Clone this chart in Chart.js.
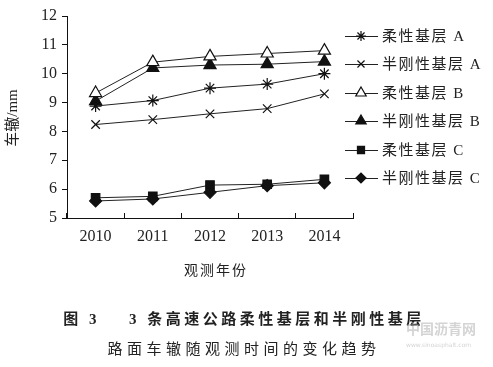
<!DOCTYPE html>
<html>
<head>
<meta charset="utf-8">
<script src="https://cdn.jsdelivr.net/npm/chart.js@4.4.1/dist/chart.umd.min.js"></script>
<style>
  body { margin: 0; background: #fff; }
  #wrap { width: 493px; height: 367px; position: relative; }
</style>
</head>
<body>
<div id="wrap"><canvas id="rut"></canvas></div>
<script>
var years = ['2010', '2011', '2012', '2013', '2014'];
var rouFlexA = [8.88, 9.07, 9.5, 9.64, 10.0];
var rouSemiA = [8.24, 8.41, 8.61, 8.79, 9.3];
var rouFlexB = [9.33, 10.4, 10.6, 10.7, 10.8];
var rouSemiB = [9.05, 10.2, 10.3, 10.33, 10.42];
var rouFlexC = [5.7, 5.75, 6.14, 6.17, 6.34];
var rouSemiC = [5.59, 5.66, 5.89, 6.12, 6.22];
var seriesNames = ['柔性基层 A', '半刚性基层 A', '柔性基层 B', '半刚性基层 B', '柔性基层 C', '半刚性基层 C'];
var yTicks = [5, 6, 7, 8, 9, 10, 11, 12];

var serif = '"Liberation Serif", "DejaVu Serif", serif';
var mixed = '"Liberation Serif", "Noto Sans CJK SC", serif';
var cjk = '"Noto Sans CJK SC", sans-serif';

function mkSet(i, data, style, fill, r) {
    return {
        label: seriesNames[i],
        data: data,
        borderColor: '#222',
        borderWidth: 1,
        pointStyle: style,
        pointRadius: r,
        pointBorderColor: '#111',
        pointBorderWidth: 1.2,
        pointBackgroundColor: fill,
        tension: 0
    };
}

var datasets = [
    mkSet(0, rouFlexA, 'star', '#111', 6),
    mkSet(1, rouSemiA, 'crossRot', '#111', 6),
    mkSet(2, rouFlexB, 'triangle', '#fff', 7),
    mkSet(3, rouSemiB, 'triangle', '#111', 7),
    mkSet(4, rouFlexC, 'rect', '#111', 6),
    mkSet(5, rouSemiC, 'rectRot', '#111', 6)
];

// legend + titles drawn on the canvas
var textPlugin = {
    id: 'texts',
    afterDraw: function (chart) {
        var ctx = chart.ctx;
        ctx.save();
        // legend
        var rows = [36, 64, 93, 121, 150, 178];
        for (var i = 0; i < datasets.length; i++) {
            var d = datasets[i];
            var y = rows[i];
            ctx.strokeStyle = '#222';
            ctx.lineWidth = 1;
            ctx.beginPath();
            ctx.moveTo(345, y + 0.5);
            ctx.lineTo(378, y + 0.5);
            ctx.stroke();
            ctx.fillStyle = d.pointBackgroundColor;
            ctx.strokeStyle = '#111';
            ctx.lineWidth = 1.2;
            Chart.helpers.drawPoint(ctx, { pointStyle: d.pointStyle, radius: d.pointRadius - 1, borderWidth: 1.2 }, 361, y);
            ctx.fillStyle = '#222';
            ctx.font = '15px ' + mixed;
            ctx.textAlign = 'left';
            ctx.textBaseline = 'middle';
            ctx.letterSpacing = '1.5px';
            ctx.fillText(seriesNames[i], 382, y + 1);
        }
        ctx.letterSpacing = '0px';
        // y title
        ctx.save();
        ctx.translate(13, 118);
        ctx.rotate(-Math.PI / 2);
        ctx.textAlign = 'center';
        ctx.textBaseline = 'middle';
        ctx.font = '15px ' + mixed;
        ctx.fillStyle = '#222';
        ctx.fillText('车辙/mm', 0, 0);
        ctx.restore();
        // x title
        ctx.textAlign = 'center';
        ctx.textBaseline = 'middle';
        ctx.font = '14px ' + cjk;
        ctx.letterSpacing = '2px';
        ctx.fillText('观测年份', 216, 270);
        // caption
        ctx.font = 'bold 15px ' + mixed;
        ctx.letterSpacing = '3.5px';
        ctx.fillText('图 3    3 条高速公路柔性基层和半刚性基层', 244, 320);
        ctx.font = '15px ' + cjk;
        ctx.letterSpacing = '4.5px';
        ctx.fillText('路面车辙随观测时间的变化趋势', 244, 348);
        // watermark
        ctx.letterSpacing = '0px';
        ctx.fillStyle = 'rgba(170,170,170,0.5)';
        ctx.font = 'bold 14px ' + cjk;
        ctx.textAlign = 'left';
        ctx.fillText('中国沥青网', 406, 329);
        ctx.font = '6px "DejaVu Sans", sans-serif';
        ctx.fillText('www.sinoasphalt.com', 406, 345);
        ctx.restore();
    }
};

new Chart(document.getElementById('rut'), {
    type: 'line',
    data: { labels: years, datasets: datasets },
    options: {
        responsive: true,
        maintainAspectRatio: false,
        animation: false,
        layout: { padding: { top: 16, right: 140, bottom: 119, left: 0 } },
        plugins: {
            legend: { display: false },
            tooltip: { enabled: false }
        },
        scales: {
            x: {
                type: 'category',
                offset: true,
                grid: { offset: true, drawOnChartArea: false, tickLength: -5, color: '#111' },
                border: { color: '#111', width: 1 },
                ticks: { color: '#222', padding: 14, font: { family: serif, size: 16 } },
                afterFit: function (s) { s.height = 30; }
            },
            y: {
                min: 5,
                max: 12,
                afterBuildTicks: function (s) { s.ticks = yTicks.map(function (v) { return { value: v }; }); },
                grid: { drawOnChartArea: false, tickLength: 5, color: '#111' },
                border: { color: '#111', width: 1 },
                ticks: { color: '#222', padding: 5, font: { family: serif, size: 16 } },
                afterFit: function (s) { s.width = 67; }
            }
        }
    },
    plugins: [textPlugin]
});
</script>
</body>
</html>
